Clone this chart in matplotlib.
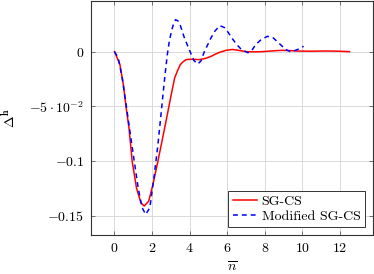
import matplotlib
matplotlib.use("Agg")
import matplotlib.pyplot as plt

# SG-CS (solid red)
sg_x = [0, 0.1, 0.29, 0.47, 0.61, 0.77, 0.94, 1.17, 1.4, 1.58, 1.82, 2.05,
        2.31, 2.5, 2.67, 2.85, 3.02, 3.2, 3.35, 3.5, 3.65, 3.81, 4.0, 4.16,
        4.52, 4.87, 5.15, 5.4, 5.65, 5.93, 6.28, 6.6, 7.0, 7.4, 7.86, 8.4,
        8.92, 9.4, 9.8, 10.5, 11.2, 11.9, 12.5]
sg_y = [0, -0.004, -0.0119, -0.030, -0.05, -0.0696, -0.1, -0.1245, -0.138,
        -0.141, -0.1366, -0.121, -0.1, -0.084, -0.0696, -0.054, -0.039,
        -0.024, -0.0175, -0.0119, -0.0092, -0.0073, -0.0070, -0.0070,
        -0.0073, -0.006, -0.0042, -0.002, -0.0003, 0.0012, 0.002, 0.0012,
        0.0, -0.0002, 0.0, 0.0007, 0.0012, 0.0009, 0.0005, 0.0004, 0.0006,
        0.0004, 0.0]

# Modified SG-CS (dashed blue)
mod_x = [0, 0.2, 0.41, 0.59, 0.82, 1.05, 1.26, 1.47, 1.66, 1.88, 2.1, 2.31,
         2.49, 2.67, 2.81, 2.92, 3.05, 3.15, 3.25, 3.38, 3.5, 3.72, 4.02,
         4.22, 4.43, 4.6, 4.78, 4.95, 5.13, 5.35, 5.61, 5.85, 6.05, 6.24,
         6.5, 6.75, 6.98, 7.1, 7.3, 7.51, 7.8, 8.13, 8.45, 8.83, 9.1, 9.36,
         9.6, 9.85, 10.06]
mod_y = [0, -0.0058, -0.024, -0.045, -0.0727, -0.1, -0.1245, -0.1426,
         -0.1487, -0.1426, -0.115, -0.085, -0.0545, -0.024, -0.0027, 0.010,
         0.020, 0.026, 0.0292, 0.028, 0.024, 0.0125, 0.0, -0.008, -0.0113,
         -0.0085, 0.0, 0.006, 0.0125, 0.019, 0.0237, 0.022, 0.0175, 0.0125,
         0.0065, 0.002, 0.0, -0.001, 0.001, 0.0064, 0.011, 0.014, 0.0125,
         0.0064, 0.002, 0.0, 0.001, 0.0028, 0.0049]

x_ticks = [0, 2, 4, 6, 8, 10, 12]
y_ticks = [-0.15, -0.1, -0.05, 0]
y_ticklabels = [r"$-0.15$", r"$-0.1$", r"$-5\cdot10^{-2}$", r"$0$"]

plt.rcParams['font.family'] = 'serif'
plt.rcParams['font.serif'] = ['cmr10', 'DejaVu Serif']
plt.rcParams['mathtext.fontset'] = 'cm'
plt.rcParams['axes.unicode_minus'] = False

fig = plt.figure(figsize=(3.74, 2.74), dpi=100)
ax = fig.add_axes([0.2433, 0.1423, 0.754, 0.855])

ax.plot(sg_x, sg_y, color='#ff0000', lw=1.1, label='SG-CS')
ax.plot(mod_x, mod_y, color='#0000ff', lw=1.1, linestyle=(0, (3.2, 2.6)),
        label='Modified SG-CS')

ax.set_xlim(-1.25, 13.75)
ax.set_ylim(-0.1675, 0.0465)
ax.set_xticks(x_ticks)
ax.set_xticklabels([r"$%d$" % t for t in x_ticks])
ax.set_yticks(y_ticks)
ax.set_yticklabels(y_ticklabels)
ax.tick_params(direction='in', length=3, width=0.5, colors='#444444',
               labelcolor='black', labelsize=10, pad=5)
ax.tick_params(top=True, right=True)
ax.grid(True, color='#d4d4d4', lw=0.6)
ax.set_axisbelow(True)
for s in ax.spines.values():
    s.set_color('#333333')
    s.set_linewidth(0.8)

ax.set_xlabel(r"$\overline{n}$", fontsize=10, labelpad=4)
ax.set_ylabel(r"$\Delta^{\mathbf{h}}$", fontsize=10)
ax.yaxis.set_label_coords(-0.255, 0.5)

leg = ax.legend(loc='lower right', fontsize=10, frameon=True, fancybox=False,
                edgecolor='#333333', framealpha=1, borderaxespad=0.6,
                handlelength=1.75, handletextpad=0.35, labelspacing=0.15,
                borderpad=0.3)
leg.get_frame().set_linewidth(0.7)

fig.savefig("out.png", dpi=100)
